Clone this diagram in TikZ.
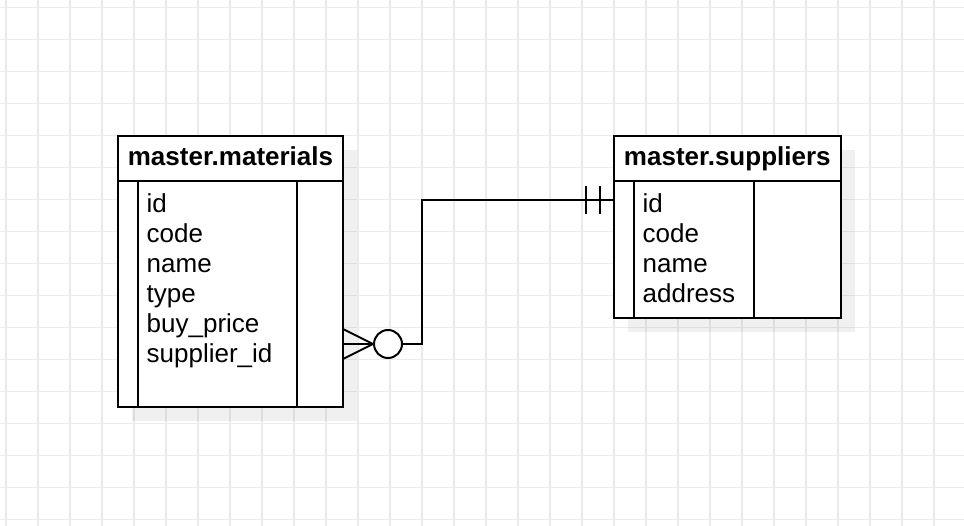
\documentclass[tikz,border=0pt]{standalone}
\usepackage{fontspec}
\setmainfont{Liberation Sans}
\definecolor{gridgray}{HTML}{EBEBEB}
\begin{document}
\begin{tikzpicture}[x=1pt,y=-1pt,
  tbl/.style={draw=black, fill=white, line width=2pt, inner sep=0pt, outer sep=0pt, anchor=north west},
  hdr/.style={font=\bfseries\fontsize{26}{30}\selectfont, anchor=base, inner sep=0pt},
  fld/.style={font=\fontsize{26}{30}\selectfont, anchor=base west, inner sep=0pt},
  sepline/.style={draw=black, line width=2pt},
  conn/.style={draw=black, line width=2pt},
  shadowbox/.style={fill=black, fill opacity=0.06, draw=none},
  gridline/.style={draw=gridgray, line width=1.3pt}]
\useasboundingbox (0,0) rectangle (964,526);
\fill[white] (0,0) rectangle (964,526);
\foreach \i in {0,...,29} \draw[gridline] (6+32*\i,0) -- (6+32*\i,526);
\foreach \j in {0,...,16} \draw[gridline] (0,7.7+32*\j) -- (964,7.7+32*\j);
% shadows
\fill[shadowbox] (132,150) rectangle (357,421);
\fill[shadowbox] (628,150) rectangle (855,332);
% materials table
\node[tbl, minimum width=225pt, minimum height=271pt] (mat) at (118,136) {};
\node[hdr] (mattitle) at (230.5,166) {master.materials};
\draw[sepline] (118,181) -- (343,181);
\draw[sepline] (138,181) -- (138,407);
\draw[sepline] (297,181) -- (297,407);
\foreach \t [count=\k] in {id,code,name,type,buy\_price,supplier\_id}
  \node[fld] (matf\k) at (146.5,212.2+30*\k-30) {\t};
% suppliers table
\node[tbl, minimum width=227pt, minimum height=182pt] (sup) at (614,136) {};
\node[hdr] (suptitle) at (727.3,166) {master.suppliers};
\draw[sepline] (614,181) -- (841,181);
\draw[sepline] (634,181) -- (634,318);
\draw[sepline] (754,181) -- (754,318);
\foreach \t [count=\k] in {id,code,name,address}
  \node[fld] (supf\k) at (642.5,212.2+30*\k-30) {\t};
% connector
\coordinate (cfoot) at (343,344);
\coordinate (ctip) at (373,344);
\node[draw=black, line width=2pt, circle, minimum size=28pt, inner sep=0pt, fill=white] (opt) at (388,344) {};
\draw[conn] (343,329) -- (ctip) -- (343,359);
\draw[conn] (cfoot) -- (ctip);
\coordinate (bend) at (421.7,344);
\coordinate (sjoin) at (614,200);
\draw[conn] (opt.east) -- (bend) |- (sjoin);
\draw[conn] (586,186) -- (586,214);
\draw[conn] (600,186) -- (600,214);
\end{tikzpicture}
\end{document}
